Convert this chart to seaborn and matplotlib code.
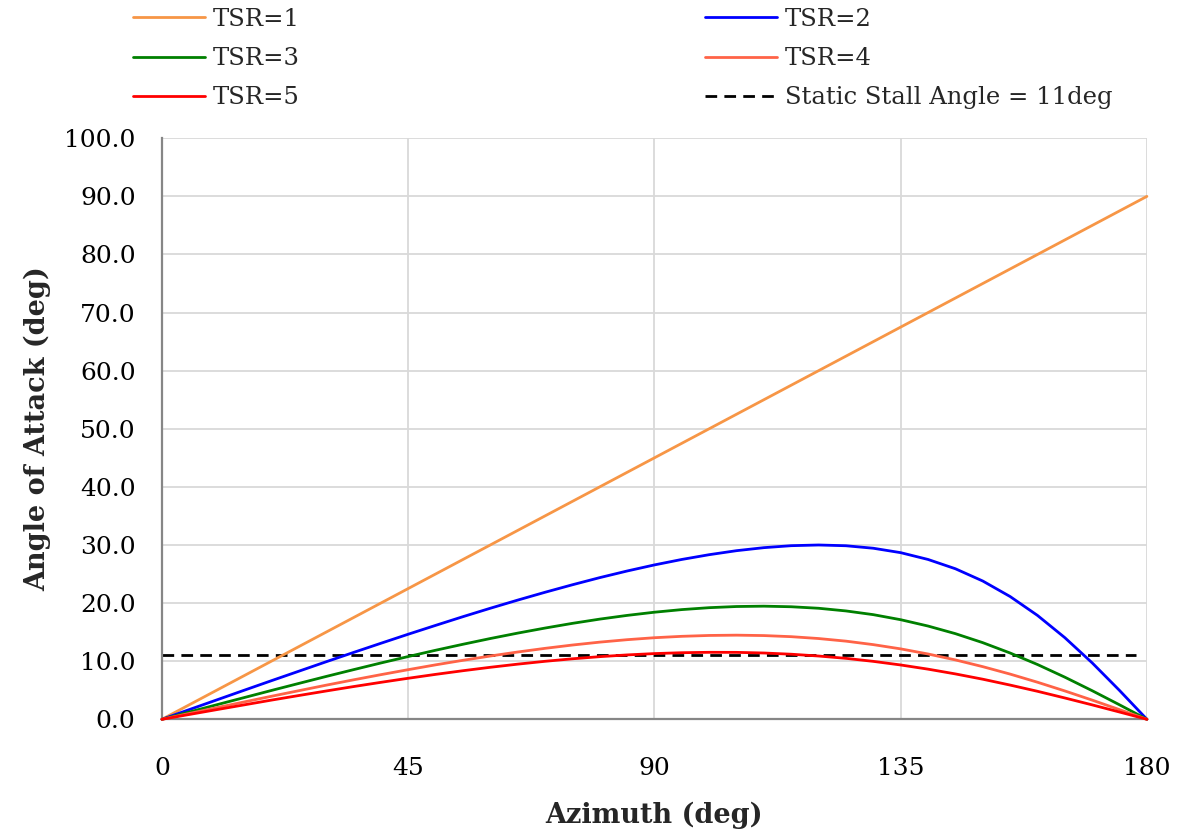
import numpy as np
import pandas as pd
import matplotlib
matplotlib.use("Agg")
import matplotlib.pyplot as plt
import seaborn as sns

# ---- data ----
azimuth = [0, 5, 10, 15, 20, 25, 30, 35, 40, 45, 50, 55, 60, 65, 70, 75, 80, 85, 90,
           95, 100, 105, 110, 115, 120, 125, 130, 135, 140, 145, 150, 155, 160, 165, 170, 175, 180]
tsr1 = [0.0, 2.5, 5.0, 7.5, 10.0, 12.5, 15.0, 17.5, 20.0, 22.5, 25.0, 27.5, 30.0, 32.5, 35.0,
        37.5, 40.0, 42.5, 45.0, 47.5, 50.0, 52.5, 55.0, 57.5, 60.0, 62.5, 65.0, 67.5, 70.0,
        72.5, 75.0, 77.5, 80.0, 82.5, 85.0, 87.5, 90.0]
tsr2 = [0.0, 1.67, 3.33, 4.99, 6.64, 8.27, 9.90, 11.50, 13.08, 14.64, 16.16, 17.66, 19.11,
        20.51, 21.86, 23.15, 24.38, 25.52, 26.57, 27.51, 28.33, 29.02, 29.54, 29.88, 30.00,
        29.87, 29.44, 28.68, 27.51, 25.91, 23.80, 21.13, 17.88, 14.05, 9.71, 4.96, 0.0]
tsr3 = [0.0, 1.25, 2.50, 3.73, 4.96, 6.17, 7.37, 8.54, 9.69, 10.80, 11.88, 12.91, 13.90,
        14.83, 15.70, 16.51, 17.24, 17.88, 18.43, 18.88, 19.21, 19.41, 19.47, 19.37, 19.11,
        18.65, 18.01, 17.14, 16.05, 14.74, 13.19, 11.41, 9.43, 7.25, 4.92, 2.49, 0.0]
tsr4 = [0.0, 1.00, 2.00, 2.98, 3.96, 4.92, 5.87, 6.79, 7.68, 8.54, 9.37, 10.15, 10.89,
        11.58, 12.21, 12.78, 13.28, 13.70, 14.04, 14.28, 14.43, 14.48, 14.41, 14.22, 13.90,
        13.45, 12.85, 12.12, 11.24, 10.22, 9.06, 7.78, 6.38, 4.88, 3.30, 1.66, 0.0]
tsr5 = [0.0, 0.83, 1.66, 2.48, 3.30, 4.09, 4.87, 5.63, 6.36, 7.06, 7.73, 8.36, 8.95,
        9.49, 9.98, 10.41, 10.78, 11.08, 11.31, 11.46, 11.53, 11.52, 11.41, 11.20, 10.89,
        10.49, 9.97, 9.35, 8.63, 7.81, 6.90, 5.89, 4.82, 3.67, 2.48, 1.25, 0.0]
stall_x = [0, 178]
stall_y = [11.0, 11.0]

series_labels = ["TSR=1", "TSR=2", "TSR=3", "TSR=4", "TSR=5"]
stall_label = "Static Stall Angle = 11deg"
x_ticks = [0, 45, 90, 135, 180]
y_ticks = [0, 10, 20, 30, 40, 50, 60, 70, 80, 90, 100]
x_label = "Azimuth (deg)"
y_label = "Angle of Attack (deg)"

colors = ["#F79646", "#0000FF", "#008000", "#FF6347", "#FF0000"]

# ---- plot ----
sns.set_style("white")
plt.rcParams["font.family"] = ["DejaVu Serif"]

fig = plt.figure(figsize=(11.89, 8.36), dpi=100)
ax = fig.add_axes([0.1362, 0.1396, 0.8284, 0.695])

handles = {}
for lab, vals, col in zip(series_labels, [tsr1, tsr2, tsr3, tsr4, tsr5], colors):
    df = pd.DataFrame({"az": azimuth, "aoa": vals})
    sns.lineplot(data=df, x="az", y="aoa", ax=ax, color=col, linewidth=2.0,
                 label=lab, legend=False, clip_on=False, zorder=3)
    handles[lab] = ax.lines[-1]

sdf = pd.DataFrame({"az": stall_x, "aoa": stall_y})
sns.lineplot(data=sdf, x="az", y="aoa", ax=ax, color="black", linewidth=2.0,
             linestyle=(0, (4.2, 2.6)), label=stall_label, legend=False, zorder=2)
handles[stall_label] = ax.lines[-1]

ax.set_xlim(0, 180)
ax.set_ylim(0, 100)
ax.set_xticks(x_ticks)
ax.set_xticklabels([str(t) for t in x_ticks])
ax.set_yticks(y_ticks)
ax.set_yticklabels([f"{t:.1f}" for t in y_ticks])

ax.grid(True, color="#D9D9D9", linewidth=1.3, zorder=0)
ax.set_axisbelow(True)
for s in ["top", "right"]:
    ax.spines[s].set_visible(False)
for s in ["left", "bottom"]:
    ax.spines[s].set_color("#868686")
    ax.spines[s].set_linewidth(1.6)

ax.tick_params(axis="both", which="major", direction="out", length=7, width=1.6,
               color="#868686", labelsize=18, labelcolor="black")
ax.tick_params(axis="y", pad=12)
ax.tick_params(axis="x", pad=20)

ax.set_xlabel(x_label, fontsize=19.5, fontweight="bold")
ax.set_ylabel(y_label, fontsize=19.5, fontweight="bold")
ax.xaxis.set_label_coords(0.5, -0.142)
ax.yaxis.set_label_coords(-0.112, 0.5)

leg_kw = dict(loc="upper left", frameon=False, fontsize=17.5, handlelength=2.95,
              handletextpad=0.33, labelspacing=0.66, borderpad=0, borderaxespad=0)
col1 = ["TSR=1", "TSR=3", "TSR=5"]
col2 = ["TSR=2", "TSR=4", stall_label]
fig.legend(handles=[handles[k] for k in col1], labels=col1,
           bbox_to_anchor=(133 / 1189, 1 - 8 / 836), **leg_kw)
fig.legend(handles=[handles[k] for k in col2], labels=col2,
           bbox_to_anchor=(705 / 1189, 1 - 8 / 836), **leg_kw)

fig.savefig("out.png", dpi=100)
